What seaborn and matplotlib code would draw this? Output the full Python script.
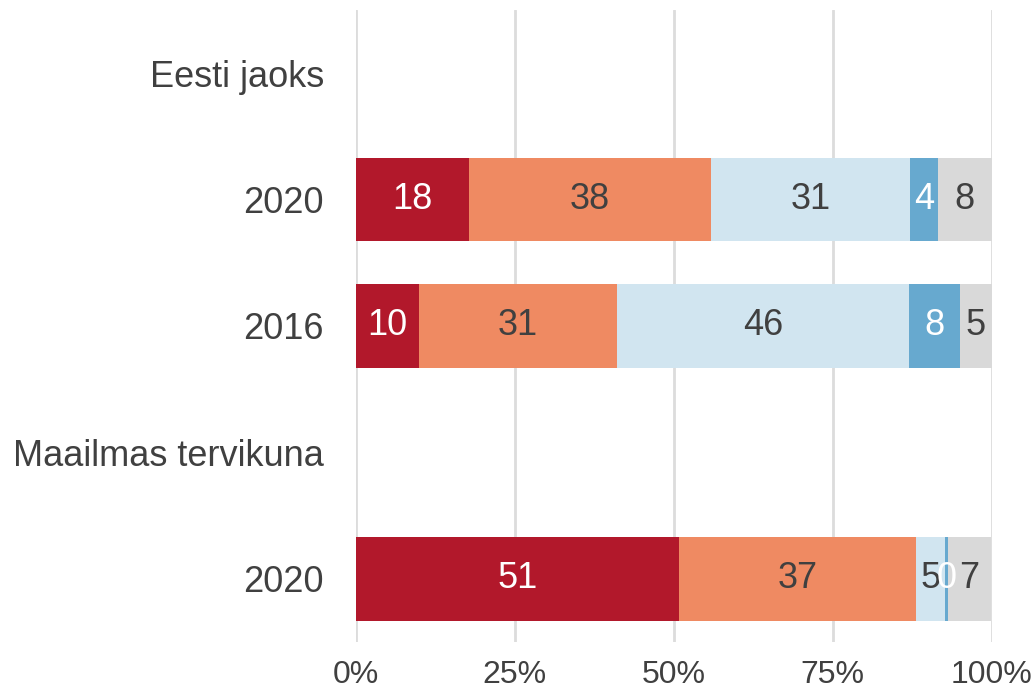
import numpy as np
import pandas as pd
import matplotlib
matplotlib.use('Agg')
import matplotlib.pyplot as plt
import seaborn as sns

# Row labels (group headers have no bar)
row_ids = ['h1', 'e2020', 'e2016', 'h2', 'w2020']
row_labels = ['Eesti jaoks', '2020', '2016', 'Maailmas tervikuna', '2020']

# Shares per answer category, %
seg1 = [np.nan, 17.8, 9.9, np.nan, 50.8]
seg2 = [np.nan, 38.0, 31.1, np.nan, 37.3]
seg3 = [np.nan, 31.4, 46.0, np.nan, 4.6]
seg4 = [np.nan, 4.4, 8.1, np.nan, 0.4]
seg5 = [np.nan, 8.4, 4.9, np.nan, 6.8]

colors = ['#b2182b', '#ef8a62', '#d1e5f0', '#67a9cf', '#d9d9d9']
text_colors = ['white', '#404040', '#404040', 'white', '#404040']
dark = '#404040'

sns.set_theme(style='white')
plt.rcParams['font.family'] = ['Liberation Sans', 'DejaVu Sans']

segs = np.array([seg1, seg2, seg3, seg4, seg5])
cum = np.nancumsum(segs, axis=0)
cum[np.isnan(segs)] = np.nan

fig = plt.figure(figsize=(10.35, 6.93), dpi=100)
ax = fig.add_axes([0.344, 0.0736, 0.958 - 0.344, 0.9856 - 0.0736])

# draw cumulative totals, last segment first, so each earlier one covers it
for i in range(len(segs) - 1, -1, -1):
    df = pd.DataFrame({'row': row_ids, 'val': cum[i]})
    sns.barplot(data=df, y='row', x='val', order=row_ids, color=colors[i],
                saturation=1, width=0.66, ax=ax, zorder=3, linewidth=0)

# value labels at the middle of each segment
for i in range(len(segs)):
    for j, v in enumerate(segs[i]):
        if np.isnan(v):
            continue
        centre = cum[i][j] - v / 2
        ax.text(centre, j, f'{v:.0f}', ha='center', va='center',
                fontsize=26, color=text_colors[i], zorder=5)

ax.set_xlim(0, 100)
ax.set_ylim(4.5, -0.5)
ax.set_xticks([0, 25, 50, 75, 100])
ax.set_xticklabels(['0%', '25%', '50%', '75%', '100%'])
ax.set_yticks(range(len(row_ids)))
ax.set_yticklabels(row_labels)
ax.set_xlabel('')
ax.set_ylabel('')
ax.xaxis.grid(True, color='#dcdcdc', linewidth=2, zorder=0)
ax.yaxis.grid(False)
ax.set_axisbelow(True)
for s in ax.spines.values():
    s.set_visible(False)
ax.tick_params(axis='y', length=0, pad=23, labelsize=26, labelcolor=dark)
ax.tick_params(axis='x', length=0, pad=13, labelsize=23, labelcolor=dark)

fig.savefig('out.png', dpi=100)
